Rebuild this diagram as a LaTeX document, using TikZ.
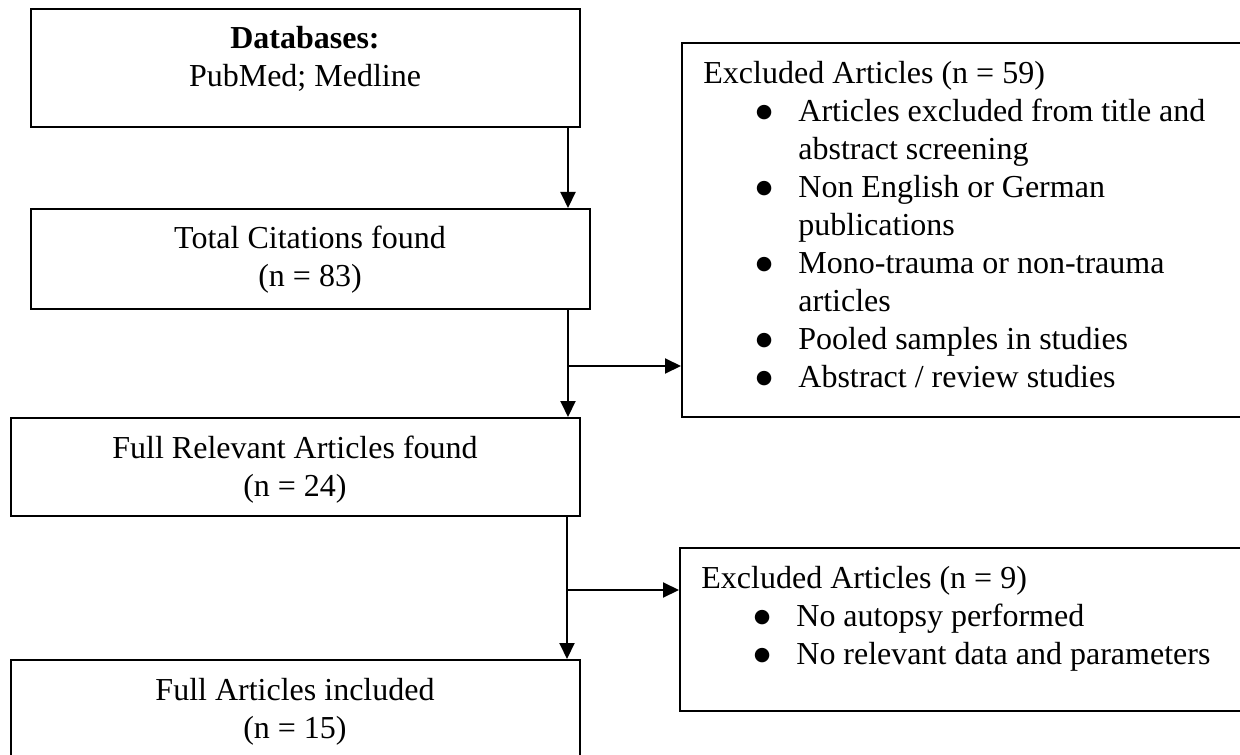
\documentclass[tikz,border=0pt]{standalone}
\usepackage{fontspec}
\setmainfont{Liberation Serif}
\newfontfamily\symfont{DejaVu Sans}
\usetikzlibrary{arrows.meta,calc}
\newcommand\bigbul{\raisebox{2.2pt}{\symfont\fontsize{9.5}{9.5}\selectfont ●}}
\newcommand\bitem[1]{\makebox[47.5pt][r]{\bigbul\hspace{13pt}}#1}
\newcommand\bcont[1]{\hspace*{47.5pt}#1}
\begin{document}
\begin{tikzpicture}[x=0.5pt,y=-0.5pt,
  box/.style n args={2}{draw,line width=1pt,minimum width=#1,minimum height=#2,inner sep=0pt},
  txt/.style={align=center,font=\fontsize{16}{19}\selectfont,inner sep=0pt},
  ltxt/.style={align=left,font=\fontsize{16}{19}\selectfont,inner sep=0pt,anchor=north west},
  arr/.style={line width=1pt,-{Triangle[length=8pt,width=7.5pt]}},
  ln/.style={line width=1pt}]
\clip (0,0) rectangle (1240,754);
\fill[white] (0,0) rectangle (1240,754);
% left boxes
\node[box={274.5pt}{59pt}] (b1) at (305.5,68) {};
\node[box={279.5pt}{50pt}] (b2) at (310.5,259) {};
\node[box={284.5pt}{49pt}] (b3) at (295.5,467) {};
\node[box={284.5pt}{70pt}] (b4) at (295.5,730) {};
% right boxes
\node[box={309pt}{187pt}] (r1) at (991,230) {};
\node[box={310pt}{81.5pt}] (r2) at (990,629.5) {};
% texts
\node[txt] (t1) at (305,59) {\textbf{Databases:}\\PubMed; Medline};
\node[txt] (t2) at (310,260) {Total Citations found\\(n = 83)};
\node[txt] (t3) at (295,470) {Full Relevant Articles found\\(n = 24)};
\node[txt] (t4) at (295,712) {Full Articles included\\(n = 15)};
\node[ltxt] (t5) at (703,61) {Excluded Articles (n = 59)\\
\bitem{Articles excluded from title and}\\
\bcont{abstract screening}\\
\bitem{Non English or German}\\
\bcont{publications}\\
\bitem{Mono-trauma or non-trauma}\\
\bcont{articles}\\
\bitem{Pooled samples in studies}\\
\bitem{Abstract / review studies}};
\node[ltxt] (t6) at (701,566) {Excluded Articles (n = 9)\\
\bitem{No autopsy performed}\\
\bitem{No relevant data and parameters}};
% connectors
\coordinate (a1) at ($(b1.south east)+(-13,0)$);
\draw[arr] (a1) -- (a1 |- b2.north);
\coordinate (a2) at (a1 |- b2.south);
\coordinate (j1) at (a1 |- 0,366);
\draw[arr] (a2) -- (a2 |- b3.north);
\draw[arr] (j1) -- (j1 -| r1.west);
\coordinate (a3) at ($(b3.south east)+(-14,0)$);
\coordinate (j2) at (a3 |- 0,590);
\draw[arr] (a3) -- (a3 |- b4.north);
\draw[arr] (j2) -- (j2 -| r2.west);
\end{tikzpicture}
\end{document}
